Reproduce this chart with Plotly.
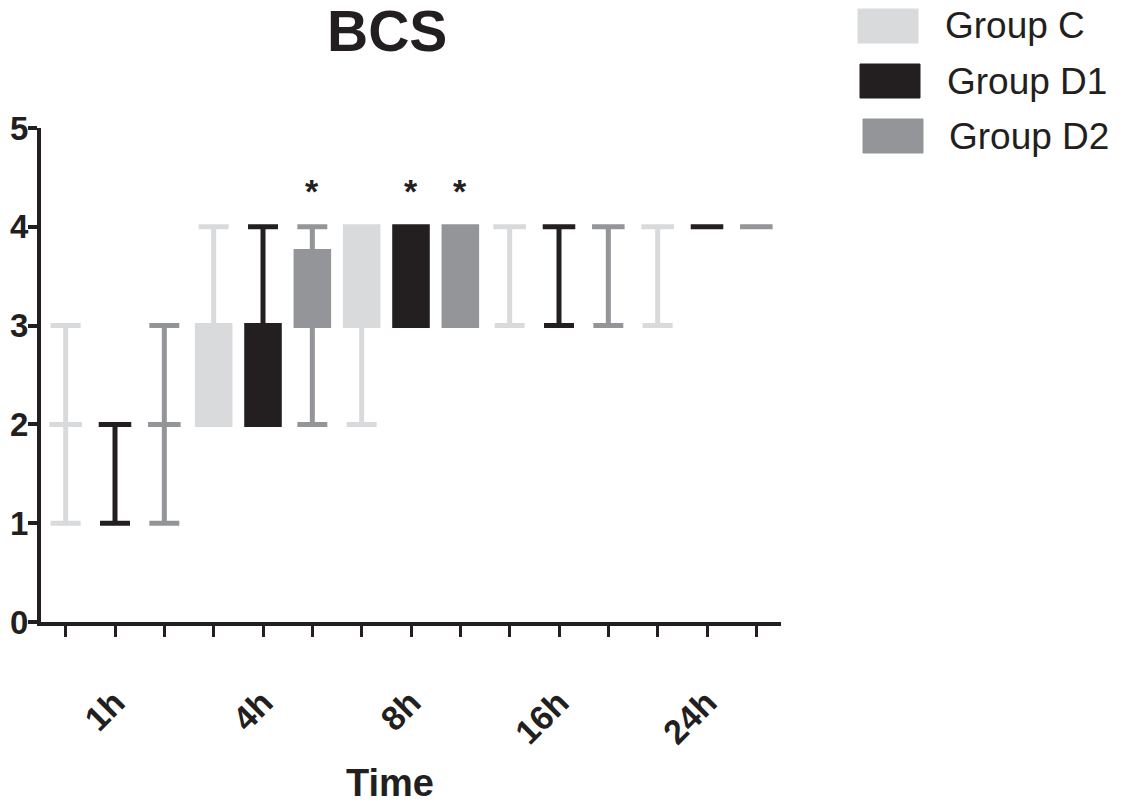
import plotly.graph_objects as go

# time points and box statistics
times = ["1h", "4h", "8h", "16h", "24h"]
groups = ["Group C", "Group D1", "Group D2"]
colors = ["#d9dadc", "#231f20", "#939598"]

mins = {
    "Group C": [1, 2, 2, 3, 3],
    "Group D1": [1, 2, 3, 3, 4],
    "Group D2": [1, 2, 3, 3, 4],
}
q1s = {
    "Group C": [2, 2, 3, 4, 4],
    "Group D1": [2, 2, 3, 4, 4],
    "Group D2": [2, 3, 3, 4, 4],
}
medians = {
    "Group C": [2, 3, 4, 4, 4],
    "Group D1": [2, 2, 4, 4, 4],
    "Group D2": [2, 3.5, 3, 4, 4],
}
q3s = {
    "Group C": [2, 3, 4, 4, 4],
    "Group D1": [2, 3, 4, 4, 4],
    "Group D2": [2, 3.75, 4, 4, 4],
}
maxs = {
    "Group C": [3, 4, 4, 4, 4],
    "Group D1": [2, 4, 4, 4, 4],
    "Group D2": [3, 4, 4, 4, 4],
}
# significance marks: (time index, group)
stars = [(1, "Group D2"), (2, "Group D1"), (2, "Group D2")]

font = "Arial, Liberation Sans, Helvetica, sans-serif"
fig = go.Figure()

for gi, g in enumerate(groups):
    xs = [3 * t + gi + 1 for t in range(len(times))]
    fig.add_trace(go.Box(
        x=xs, q1=q1s[g], median=medians[g], q3=q3s[g],
        lowerfence=mins[g], upperfence=maxs[g],
        name=g, width=0.66, whiskerwidth=0.92,
        fillcolor=colors[gi], line=dict(color=colors[gi], width=5),
        boxpoints=False, showlegend=False, hoverinfo="skip",
    ))

for t, g in stars:
    fig.add_annotation(x=3 * t + groups.index(g) + 1, y=4.36, text="<b>*</b>",
                       showarrow=False, font=dict(size=34, color="#231f20", family=font))

tickvals = list(range(1, 3 * len(times) + 1))
ticktext = ["" if (v - 2) % 3 else times[(v - 2) // 3] for v in tickvals]

fig.update_xaxes(
    range=[0.5, 15.5], tickvals=tickvals, ticktext=ticktext, tickangle=-45,
    showline=True, linecolor="#231f20", linewidth=4, ticks="outside",
    ticklen=11, tickwidth=3, tickcolor="#231f20", showgrid=False, zeroline=False,
    automargin=False, ticklabelstandoff=32,
    tickfont=dict(family=font, size=34, color="#231f20", weight="bold"),
)
fig.update_yaxes(
    range=[0, 5], dtick=1, showline=True, linecolor="#231f20", linewidth=4,
    ticks="outside", ticklen=9, tickwidth=4, tickcolor="#231f20",
    showgrid=False, zeroline=False, automargin=False, ticklabelstandoff=-7,
    tickfont=dict(family=font, size=33, color="#231f20", weight="bold"),
)

# title and axis title (paper coords derived from reference pixels)
fig.add_annotation(x=(386 - 40) / 740, y=(622 - 31) / 494, xref="paper", yref="paper",
                   text="<b>BCS</b>", showarrow=False, xanchor="center", yanchor="middle",
                   font=dict(family=font, size=57, color="#231f20"))
fig.add_annotation(x=(389 - 40) / 740, y=(622 - 783) / 494, xref="paper", yref="paper",
                   text="<b>Time</b>", showarrow=False, xanchor="center", yanchor="middle",
                   font=dict(family=font, size=38, color="#231f20"))

# legend drawn by hand (swatches + labels)
legend_y = [26, 81, 136]
legend_x = [857, 859, 862]
for gi, g in enumerate(groups):
    yc = legend_y[gi]
    x0 = legend_x[gi]
    fig.add_shape(type="rect", xref="paper", yref="paper",
                  x0=(x0 - 40) / 740, x1=(x0 + 60 - 40) / 740,
                  y0=(622 - (yc + 17)) / 494, y1=(622 - (yc - 17)) / 494,
                  fillcolor=colors[gi], line=dict(color=colors[gi], width=1))
    fig.add_annotation(x=(942 - 40 + gi * 2) / 740, y=(622 - yc) / 494,
                       xref="paper", yref="paper", text=g, showarrow=False,
                       xanchor="left", yanchor="middle",
                       font=dict(family=font, size=37, color="#231f20"))

# page has an 8px body margin, so the figure is drawn 16px smaller
fig.update_layout(
    width=1106, height=793, margin=dict(l=33, r=333, t=120, b=179),
    plot_bgcolor="white", paper_bgcolor="white", boxmode="overlay",
)
fig.write_html("out.html")
